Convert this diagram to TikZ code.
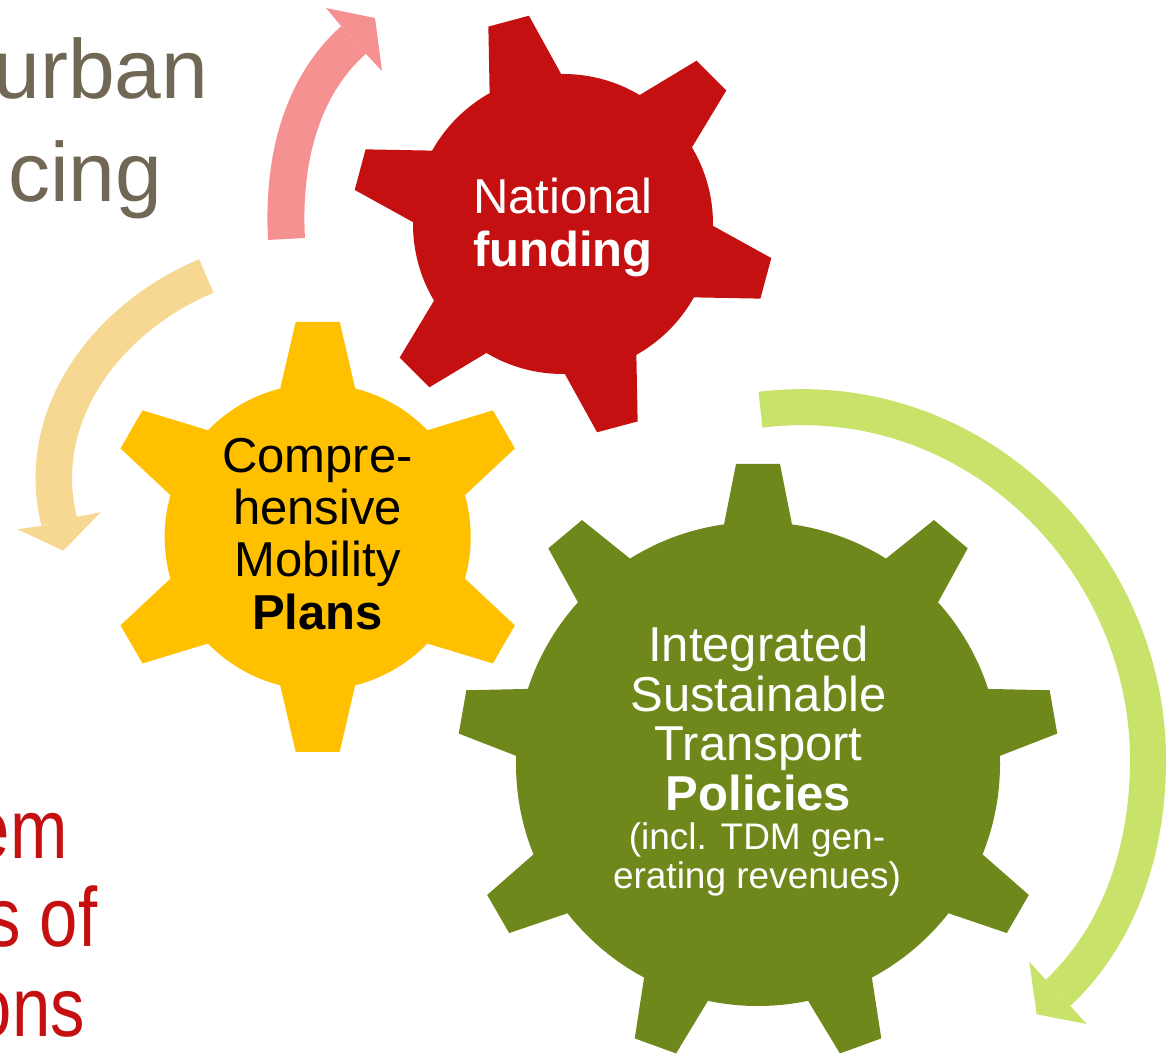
\documentclass[tikz,border=0pt]{standalone}
\usepackage{fontspec}
\setmainfont{Liberation Sans}

\definecolor{gearred}{HTML}{C41011}
\definecolor{gearyellow}{HTML}{FFC000}
\definecolor{geargreen}{HTML}{6F881B}
\definecolor{arrowpink}{HTML}{F69191}
\definecolor{arrowsand}{HTML}{F6D892}
\definecolor{arrowlime}{HTML}{C8E26A}
\definecolor{slidegray}{HTML}{706754}

\tikzset{
  gearlabel/.style={align=center,inner sep=0pt},
  sidetext/.style={anchor=base east,inner sep=0pt,font=\fontsize{84}{84}\selectfont},
  narrowtext/.style={sidetext,xscale=.82},
}

\begin{document}
\begin{tikzpicture}[x=1pt,y=-1pt]
  \useasboundingbox (0,0) rectangle (1176,1056);

  % bits of the slide text coming in from the left
  \node[sidetext,slidegray] (urban) at (208.4,98.2) {urban};
  \node[sidetext,slidegray] (cing) at (162.6,201.8) {cing};
  \node[narrowtext,gearred] (em) at (67.8,858.3) {em};
  \node[narrowtext,gearred] (sof) at (97.5,946.7) {s of};
  \node[narrowtext,gearred] (ons) at (85,1036.7) {ons};

  % pink arrow, up and over
  \coordinate (pa) at (286.5,239);
  \coordinate (pb) at (353.5,40);
  \draw[arrowpink,line width=37pt] (pa) .. controls (282.5,165.4) and (298.6,89) .. (pb);
  \fill[arrowpink] (341,26) -- (326,8) -- (375,18) -- (382,71) -- (366,54) -- cycle;

  % sand arrow, down the left
  \coordinate (sa) at (206.3,276);
  \coordinate (sb) at (59.2,521.3);
  \draw[arrowsand,line width=36.5pt] (sa) .. controls (106.2,318) and (32.8,416.3) .. (sb);
  \fill[arrowsand] (40.7,526) -- (17.3,529.3) -- (63.3,550.7) -- (100.7,512.3) -- (77.7,516.7) -- cycle;

  % lime arrow, round the big gear
  \coordinate (la) at (760.5,409.7);
  \coordinate (lm) at (1148,760);
  \coordinate (lb) at (1058,992.8);
  \draw[arrowlime,line width=36pt] (la) .. controls (974,383.7) and (1148,560) .. (lm)
    .. controls (1148,846.7) and (1121.2,933.5) .. (lb);
  \fill[arrowlime] (1045,979) -- (1029.3,961.7) -- (1036.7,1014.3) -- (1086.7,1024) -- (1071,1006.7) -- cycle;

  % red gear
  \fill[gearred] (563,224) circle (150pt);
  \foreach \a in {45,105,...,345}
    \fill[gearred,shift={(563,224)},rotate=\a] (145.4,37) -- (210,21) -- (210,-21) -- (145.4,-37) -- cycle;
  \node[gearlabel,white,font=\fontsize{49}{53.4}\selectfont] (funding) at (563,227.7) {National\\\textbf{funding}};

  % yellow gear
  \fill[gearyellow] (317.7,536.9) circle (153pt);
  \foreach \a in {30,90,...,330}
    \fill[gearyellow,shift={(317.7,536.9)},rotate=\a] (148.3,37.5) -- (215,22) -- (215,-22) -- (148.3,-37.5) -- cycle;
  \node[gearlabel,black,font=\fontsize{49}{52.2}\selectfont] (plans) at (317.5,534)
    {Compre-\\hensive\\Mobility\\\textbf{Plans}};

  % green gear
  \fill[geargreen] (758,764) circle (242pt);
  \foreach \a in {90,50,...,-230}
    \fill[geargreen,shift={(758,764)},rotate=\a] (239.5,34) -- (300,22) -- (300,-22) -- (239.5,-34) -- cycle;
  \node[gearlabel,white,font=\fontsize{49}{49.5}\selectfont] (policies) at (758.5,718.3)
    {Integrated\\Sustainable\\Transport\\\textbf{Policies}};
  \node[gearlabel,white,font=\fontsize{37}{39}\selectfont] (tdm) at (757,859.2)
    {(incl. TDM gen-\\erating revenues)};
\end{tikzpicture}
\end{document}
